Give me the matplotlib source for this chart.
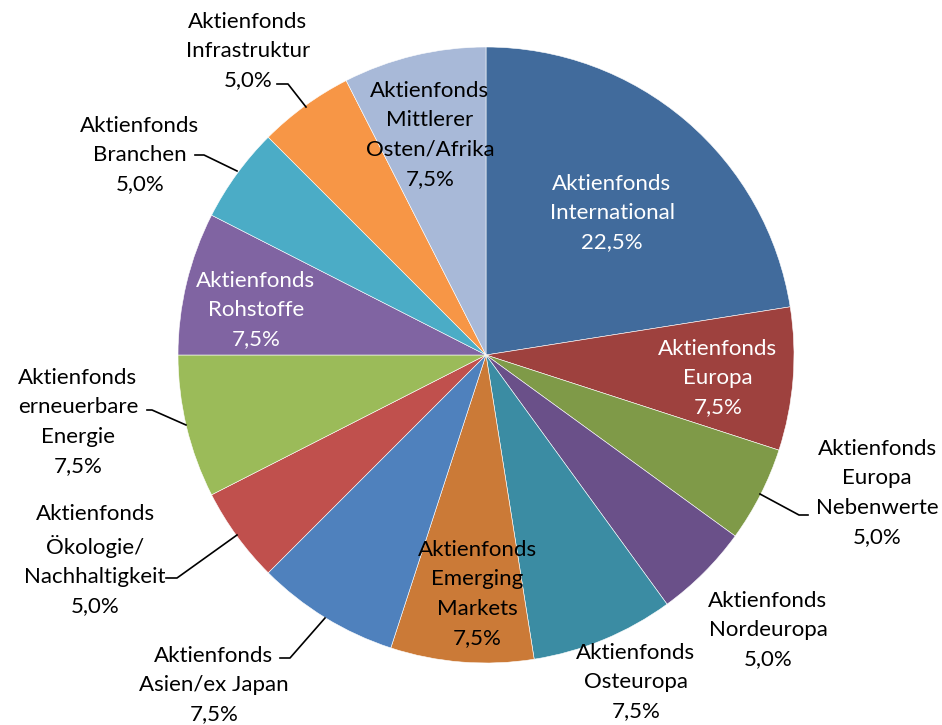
import matplotlib.pyplot as plt

# ---- Daten ----
fonds = ['Aktienfonds\nInternational', 'Aktienfonds\nEuropa', 'Aktienfonds\nEuropa\nNebenwerte',
         'Aktienfonds\nNordeuropa', 'Aktienfonds\nOsteuropa', 'Aktienfonds\nEmerging\nMarkets',
         'Aktienfonds\nAsien/ex Japan', 'Aktienfonds\nÖkologie/\nNachhaltigkeit',
         'Aktienfonds\nerneuerbare\nEnergie', 'Aktienfonds\nRohstoffe', 'Aktienfonds\nBranchen',
         'Aktienfonds\nInfrastruktur', 'Aktienfonds\nMittlerer\nOsten/Afrika']
anteile = [22.5, 7.5, 5.0, 5.0, 7.5, 7.5, 7.5, 5.0, 7.5, 7.5, 5.0, 5.0, 7.5]
farben = ['#416B9C', '#9E413E', '#7F9A48', '#6A5089', '#3B8CA3', '#CB7A37', '#4F81BD',
          '#C0504D', '#9BBB59', '#8064A2', '#4BACC6', '#F79646', '#A8B9D8']
textfarbe = ['white', 'white', 'black', 'black', 'black', 'black', 'black',
             'black', 'black', 'white', 'black', 'black', 'black']

# ---- Position der Beschriftungen (Pixel) ----
lab_pos = [(612, 213), (718, 378), (877, 493), (768, 630), (636, 682), (477, 594),
           (214, 685), (95, 560), (78, 422), (256, 310), (140, 155), (248, 51), (430, 135)]
leader = {2: [(760, 494), (799, 515), (808, 515)],
          6: [(325, 618), (290, 658), (280, 658)],
          7: [(237, 535), (177, 578), (166, 578)],
          8: [(186, 425), (152, 410), (147, 410)],
          10: [(237, 171), (204, 155), (195, 155)],
          11: [(306, 107), (288, 84), (277, 84)]}

W, H = 942, 725
fig = plt.figure(figsize=(W / 100, H / 100), dpi=100)
ax = fig.add_axes([0, 0, 1, 1])

ax.pie(anteile, colors=farben, startangle=90, counterclock=False,
       center=(486, H - 355), radius=308, frame=True,
       wedgeprops=dict(edgecolor='white', linewidth=0.4))
ax.set_xlim(0, W)
ax.set_ylim(0, H)
ax.axis('off')

for i, (name, wert) in enumerate(zip(fonds, anteile)):
    txt = name + '\n' + f'{wert:.1f}'.replace('.', ',') + '%'
    x, y = lab_pos[i]
    ax.text(x, H - y, txt, ha='center', va='center', fontsize=16, family='Lato',
            color=textfarbe[i], linespacing=1.58)

for pts in leader.values():
    ax.plot([p[0] for p in pts], [H - p[1] for p in pts], color='black', lw=1.2)

fig.savefig('out.png', dpi=100)
